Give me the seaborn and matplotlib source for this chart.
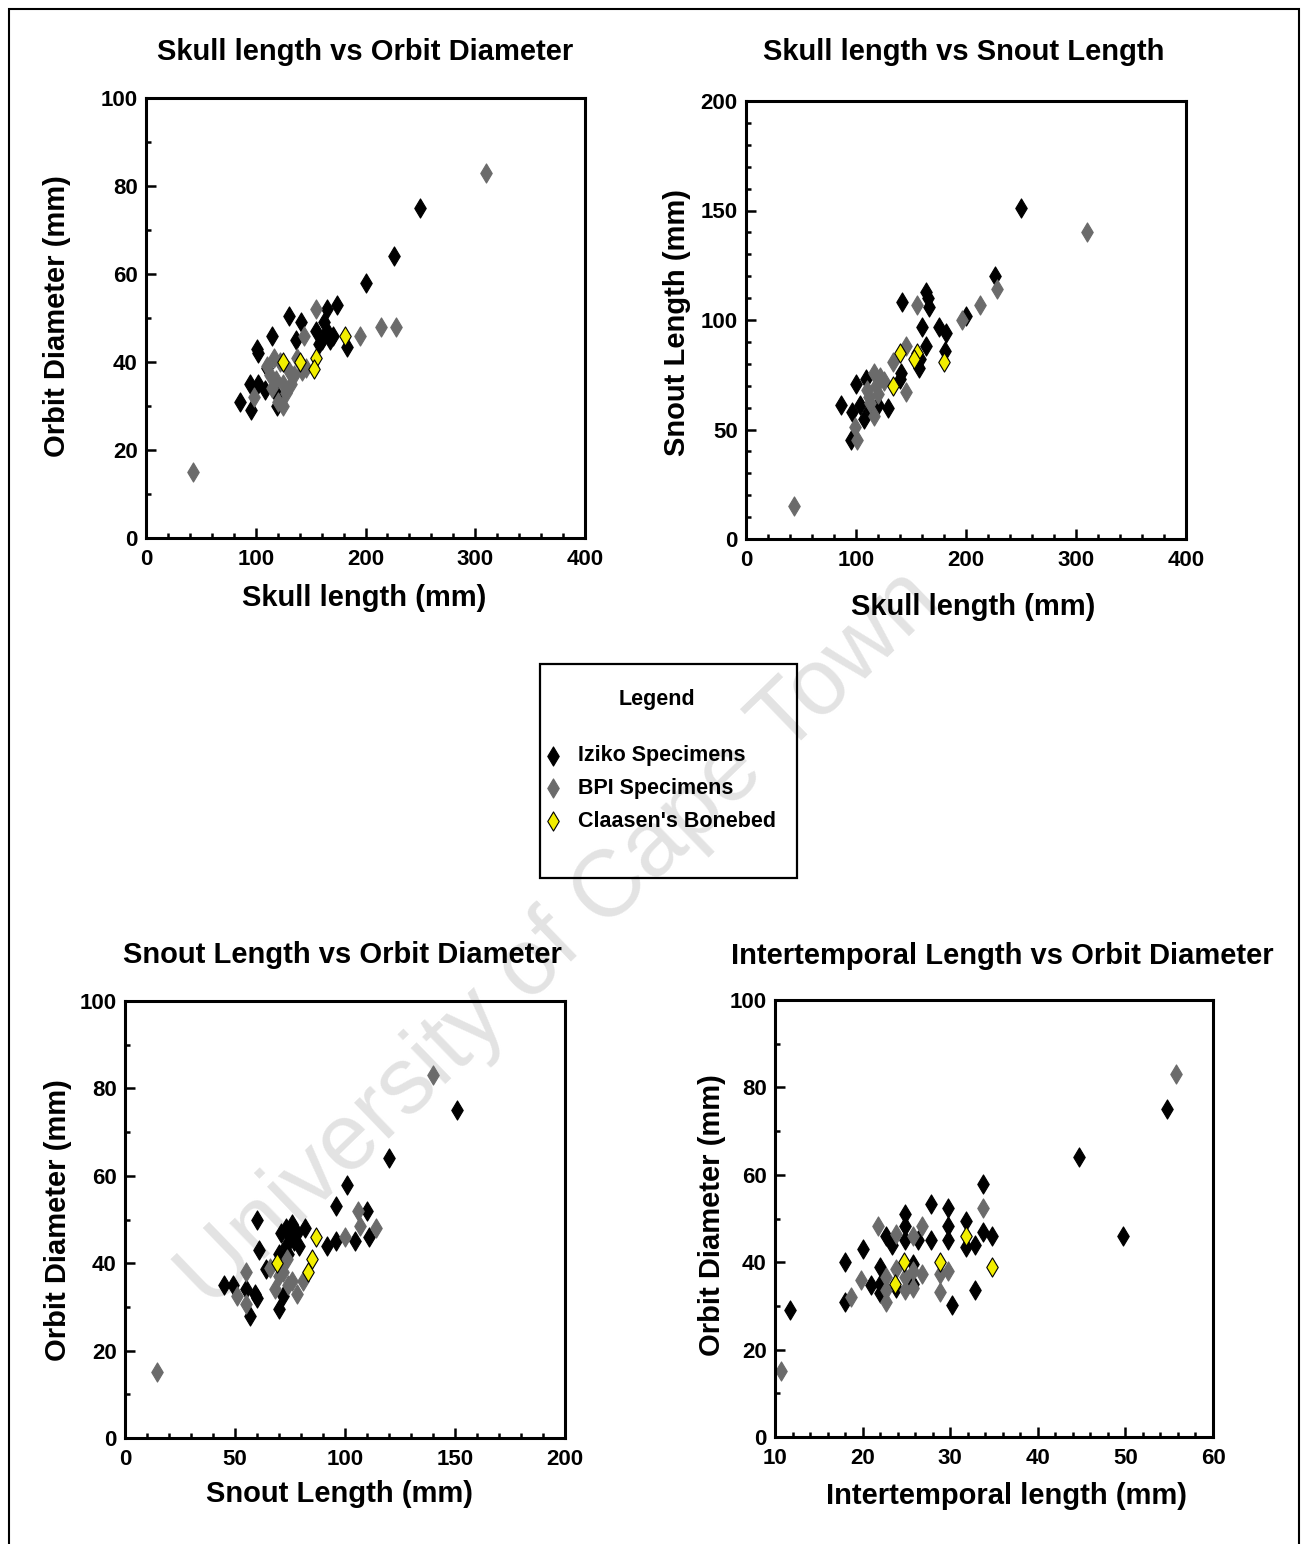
import numpy as np
import pandas as pd
import matplotlib
matplotlib.use('Agg')
import matplotlib.pyplot as plt
from matplotlib.patches import Rectangle
from matplotlib.ticker import MultipleLocator
import seaborn as sns

# Skull length vs orbit diameter
so_iziko_x = [250, 226, 200, 174, 165, 130, 141, 115, 155, 160, 165, 168, 162, 158, 170, 137, 183, 101, 102, 110, 95, 102, 86, 96, 119, 119, 108]
so_iziko_y = [75, 64, 58, 53, 52, 50.5, 49, 46, 47, 45, 47, 45, 49, 44, 46, 45, 43.5, 43, 42, 38.6, 35, 35, 31, 29, 30, 32.5, 33.6]
so_bpi_x = [43, 310, 155, 144, 195, 214, 228, 113, 118, 122, 125, 130, 128, 115, 120, 135, 138, 142, 146, 110, 98, 132, 125, 117]
so_bpi_y = [15, 83, 52, 46, 46, 48, 48, 37, 36, 40, 35, 38, 33, 34, 31, 37, 41, 38, 38.6, 39, 32, 35, 30, 41]
so_claasen_x = [125, 140, 155, 153, 181]
so_claasen_y = [40, 40, 41, 38.5, 46]

# Skull length vs snout length
ss_iziko_x = [250, 226, 200, 164, 165, 166, 142, 175, 160, 182, 181, 164, 158, 157, 141, 140, 100, 86, 96, 104, 107, 113, 120, 129, 95, 109]
ss_iziko_y = [151, 120, 102, 113, 110, 106, 108, 97, 97, 94, 86, 88, 82, 78, 76, 73, 71, 61, 58, 61, 55, 59.5, 61, 60, 45, 73]
ss_bpi_x = [310, 228, 213, 196, 155, 145, 145, 134, 116, 122, 118, 125, 110, 112, 120, 113, 116, 99, 101, 44]
ss_bpi_y = [140, 114, 107, 100, 107, 88, 67, 81, 76, 74, 70, 72, 68, 65, 66, 62, 56, 51, 45, 15]
ss_claasen_x = [140, 155, 153, 134, 180]
ss_claasen_y = [85, 85, 82, 70, 81]

# Snout length vs orbit diameter
no_iziko_x = [151, 120, 101, 96, 110, 111, 104.5, 96, 92, 60, 61, 73, 75, 77, 73, 78, 70, 82, 64, 45, 49, 55, 59, 60, 57, 70, 72, 76, 79, 74, 71]
no_iziko_y = [75, 64, 58, 53, 52, 46, 45, 45, 44, 50, 43, 48, 46, 45, 44, 47, 42, 48, 38.6, 35, 35, 34, 33, 32, 28, 29.5, 32.6, 49, 44, 42, 47]
no_bpi_x = [140, 106, 107, 114, 100, 73.5, 66, 70, 74, 78, 68, 72, 76, 81, 55, 51, 55, 14.5]
no_bpi_y = [83, 52, 48.5, 48, 46, 41, 39, 37, 35, 33, 34, 38, 36, 36, 38, 32.6, 30.7, 15]
no_claasen_x = [87, 85, 83, 69]
no_claasen_y = [46, 41, 38, 40]

# Intertemporal length vs orbit diameter
io_iziko_x = [11.7, 18, 18, 20, 21, 22, 22, 22, 22.7, 23.3, 23.8, 24.8, 24.8, 24.8, 25.8, 25.8, 26.3, 27.8, 27.8, 29.8, 29.8, 29.8, 30.2, 31.8, 31.8, 32.8, 32.8, 33.8, 33.8, 34.8, 44.7, 49.7, 54.8]
io_iziko_y = [29, 40, 31, 43, 34.7, 39, 35, 33, 46, 44, 34, 51, 48.3, 45, 39.6, 35, 45, 53.3, 45, 52.5, 48.3, 45, 30.2, 49.5, 43.4, 44, 33.6, 58, 46.8, 46, 64, 46, 75]
io_bpi_x = [10.7, 18.7, 19.8, 21.8, 22.7, 22.7, 22.7, 23.8, 23.8, 24.8, 24.8, 25.8, 25.8, 25.8, 26.8, 26.8, 28.8, 28.8, 29.7, 33.8, 55.8]
io_bpi_y = [15, 32, 36, 48.3, 36.6, 33.6, 31, 46.4, 38.5, 36.6, 33.6, 46, 38, 34, 48.3, 37.3, 37.3, 33.2, 38, 52.3, 83]
io_claasen_x = [23.7, 24.7, 28.8, 31.8, 34.8]
io_claasen_y = [35, 40, 40, 46, 39]

groups = ['Iziko Specimens', 'BPI Specimens', "Claasen's Bonebed"]
face = {'Iziko Specimens': '#000000', 'BPI Specimens': '#6b6b6b', "Claasen's Bonebed": '#f2ee00'}
edge = {'Iziko Specimens': '#000000', 'BPI Specimens': '#6b6b6b', "Claasen's Bonebed": '#000000'}

W, H = 1307, 1544

sns.set_theme(style='white')
plt.rcParams['font.family'] = ['Liberation Sans', 'DejaVu Sans']
plt.rcParams['font.weight'] = 'bold'
plt.rcParams['axes.labelweight'] = 'bold'
plt.rcParams['text.color'] = 'black'
plt.rcParams['axes.labelcolor'] = 'black'
plt.rcParams['xtick.color'] = 'black'
plt.rcParams['ytick.color'] = 'black'


def fx(x):
    return x / W


def fy(y):
    return 1 - y / H


def make_df(xs, ys):
    frames = [pd.DataFrame({'x': x, 'y': y, 'group': g}) for g, x, y in zip(groups, xs, ys)]
    return pd.concat(frames, ignore_index=True)


panels = [
    dict(box=(146, 98, 585, 538),
         df=make_df([so_iziko_x, so_bpi_x, so_claasen_x], [so_iziko_y, so_bpi_y, so_claasen_y]),
         xlim=(0, 400), ylim=(0, 100), xt=(100, 20), yt=(20, 10),
         title='Skull length vs Orbit Diameter', tpos=(365, 52),
         xlabel='Skull length (mm)', xlpos=(364, 598),
         ylabel='Orbit Diameter (mm)', ylpos=(57, 316)),
    dict(box=(746, 101, 1186, 539),
         df=make_df([ss_iziko_x, ss_bpi_x, ss_claasen_x], [ss_iziko_y, ss_bpi_y, ss_claasen_y]),
         xlim=(0, 400), ylim=(0, 200), xt=(100, 20), yt=(50, 10),
         title='Skull length vs Snout Length', tpos=(964, 52),
         xlabel='Skull length (mm)', xlpos=(973, 607),
         ylabel='Snout Length (mm)', ylpos=(677, 322)),
    dict(box=(125, 1001, 565, 1438),
         df=make_df([no_iziko_x, no_bpi_x, no_claasen_x], [no_iziko_y, no_bpi_y, no_claasen_y]),
         xlim=(0, 200), ylim=(0, 100), xt=(50, 10), yt=(20, 10),
         title='Snout Length vs Orbit Diameter', tpos=(342, 955),
         xlabel='Snout Length (mm)', xlpos=(339, 1494),
         ylabel='Orbit Diameter (mm)', ylpos=(58, 1220)),
    dict(box=(775, 1000, 1213, 1437),
         df=make_df([io_iziko_x, io_bpi_x, io_claasen_x], [io_iziko_y, io_bpi_y, io_claasen_y]),
         xlim=(10, 60), ylim=(0, 100), xt=(10, 2), yt=(20, 10),
         title='Intertemporal Length vs Orbit Diameter', tpos=(1002, 956),
         xlabel='Intertemporal length (mm)', xlpos=(1007, 1496),
         ylabel='Orbit Diameter (mm)', ylpos=(712, 1215)),
]

fig = plt.figure(figsize=(W / 100, H / 100), dpi=100)

# watermark behind everything
fig.text(fx(560), fy(940), 'University of Cape Town', rotation=44, fontsize=68,
         fontweight='normal', color='#e3e3e3', ha='center', va='center', zorder=-5)

handles = None
for p in panels:
    l, t, r, b = p['box']
    ax = fig.add_axes([fx(l), fy(b), (r - l) / W, (b - t) / H])
    ax.set_facecolor('none')
    for g in groups:
        sub = p['df'][p['df']['group'] == g]
        sns.scatterplot(data=sub, x='x', y='y', marker='d', s=95, color=face[g],
                        edgecolor=edge[g], linewidth=0.8, label=g, legend=False, ax=ax)
    if handles is None:
        handles, labels = ax.get_legend_handles_labels()
    ax.set_xlim(*p['xlim'])
    ax.set_ylim(*p['ylim'])
    ax.xaxis.set_major_locator(MultipleLocator(p['xt'][0]))
    ax.xaxis.set_minor_locator(MultipleLocator(p['xt'][1]))
    ax.yaxis.set_major_locator(MultipleLocator(p['yt'][0]))
    ax.yaxis.set_minor_locator(MultipleLocator(p['yt'][1]))
    ax.set_xlabel('')
    ax.set_ylabel('')
    for s in ax.spines.values():
        s.set_visible(True)
        s.set_color('black')
        s.set_linewidth(2.2)
    ax.tick_params(which='both', direction='in', bottom=True, left=True, top=False, right=False,
                   color='black', width=1.8, labelsize=16, labelcolor='black')
    ax.tick_params(which='major', length=7)
    ax.tick_params(which='minor', length=3.5)
    ax.tick_params(axis='x', pad=8)
    ax.tick_params(axis='y', pad=6)

    fig.text(fx(p['tpos'][0]), fy(p['tpos'][1]), p['title'], fontsize=21, fontweight='bold',
             ha='center', va='center')
    fig.text(fx(p['xlpos'][0]), fy(p['xlpos'][1]), p['xlabel'], fontsize=21, fontweight='bold',
             ha='center', va='center')
    fig.text(fx(p['ylpos'][0]), fy(p['ylpos'][1]), p['ylabel'], fontsize=21, fontweight='bold',
             ha='center', va='center', rotation=90)

# legend box
fig.patches.append(Rectangle((fx(540), fy(878)), 257 / W, 214 / H, transform=fig.transFigure,
                             fill=False, edgecolor='black', linewidth=1.6))
fig.text(fx(657), fy(699), 'Legend', fontsize=15.5, fontweight='bold', ha='center', va='center')
fig.legend(handles, labels, loc='center left', bbox_to_anchor=(fx(542), fy(788.5)),
           frameon=False, fontsize=15.5, handlelength=1.0, handletextpad=0.66,
           labelspacing=0.55, borderpad=0, borderaxespad=0, markerscale=1.0)

# outer frame
fig.patches.append(Rectangle((fx(9), -0.05), (1299 - 9) / W, (1544 - 9) / H + 0.05,
                             transform=fig.transFigure, fill=False, edgecolor='black', linewidth=1.5))

fig.savefig('out.png', dpi=100)
